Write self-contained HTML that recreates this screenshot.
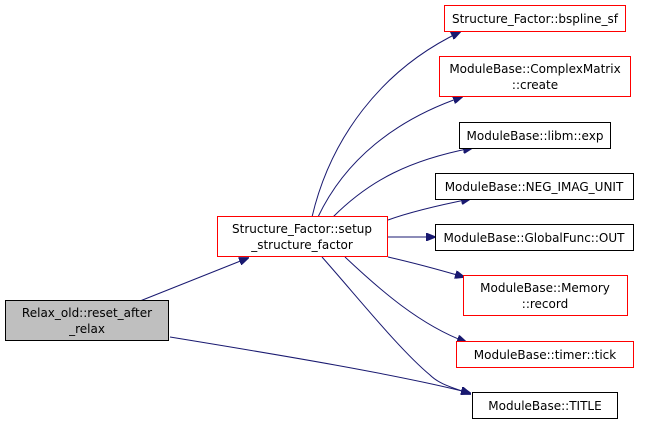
<!DOCTYPE html>
<html><head><style>body{margin:0;background:#fff}svg{display:block}text{font-family:"DejaVu Sans","Liberation Sans",sans-serif;font-size:12px;fill:#000}</style></head>
<body>
<svg width="660" height="424" viewBox="0 0 660 424" xmlns="http://www.w3.org/2000/svg">
<defs><marker id="a" markerWidth="10" markerHeight="8" refX="9" refY="4" orient="auto" markerUnits="userSpaceOnUse"><path d="M0,0 L10,4 L0,8 z" fill="#191970" stroke="#191970"/></marker></defs>
<g fill="none" stroke="#191970" stroke-width="1" marker-end="url(#a)">
<path d="M140,301 L248,258"/>
<path d="M170,337 C280,355 400,375 470,393"/>
<path d="M312,217 C330,140 380,70 460,32"/>
<path d="M318,217 C345,160 395,120 462,97"/>
<path d="M333,217 C370,180 410,160 472,148"/>
<path d="M388,220 C410,212 440,205 470,199"/>
<path d="M388,237 L435,237"/>
<path d="M388,257 C410,262 440,270 464,277"/>
<path d="M345,257 C380,290 420,325 466,342"/>
<path d="M322,257 C360,300 400,350 430,375 C440,385 455,388 470,394"/>
</g>
<g stroke-width="1">
<rect x="5.5" y="300.5" width="163" height="40" fill="#bfbfbf" stroke="#000"/>
<rect x="217.5" y="216.5" width="170" height="40" fill="#fff" stroke="#ff0000"/>
<rect x="444.5" y="5.5" width="181" height="26" fill="#fff" stroke="#ff0000"/>
<rect x="439.5" y="56.5" width="191" height="40" fill="#fff" stroke="#ff0000"/>
<rect x="459.5" y="122.5" width="151" height="26" fill="#fff" stroke="#000"/>
<rect x="435.5" y="173.5" width="198" height="26" fill="#fff" stroke="#000"/>
<rect x="435.5" y="224.5" width="198" height="26" fill="#fff" stroke="#000"/>
<rect x="463.5" y="275.5" width="164" height="40" fill="#fff" stroke="#ff0000"/>
<rect x="456.5" y="341.5" width="177" height="26" fill="#fff" stroke="#ff0000"/>
<rect x="472.5" y="392.5" width="145" height="26" fill="#fff" stroke="#000"/>
</g>
<g text-anchor="middle">
<text x="87" y="317">Relax_old::reset_after</text><text x="87" y="333">_relax</text>
<text x="302" y="233">Structure_Factor::setup</text><text x="302" y="249">_structure_factor</text>
<text x="535" y="23">Structure_Factor::bspline_sf</text>
<text x="535" y="73">ModuleBase::ComplexMatrix</text><text x="535" y="89">::create</text>
<text x="535" y="140">ModuleBase::libm::exp</text>
<text x="534" y="191">ModuleBase::NEG_IMAG_UNIT</text>
<text x="534" y="242">ModuleBase::GlobalFunc::OUT</text>
<text x="545" y="292">ModuleBase::Memory</text><text x="545" y="308">::record</text>
<text x="545" y="359">ModuleBase::timer::tick</text>
<text x="545" y="410">ModuleBase::TITLE</text>
</g>
</svg>
</body></html>
